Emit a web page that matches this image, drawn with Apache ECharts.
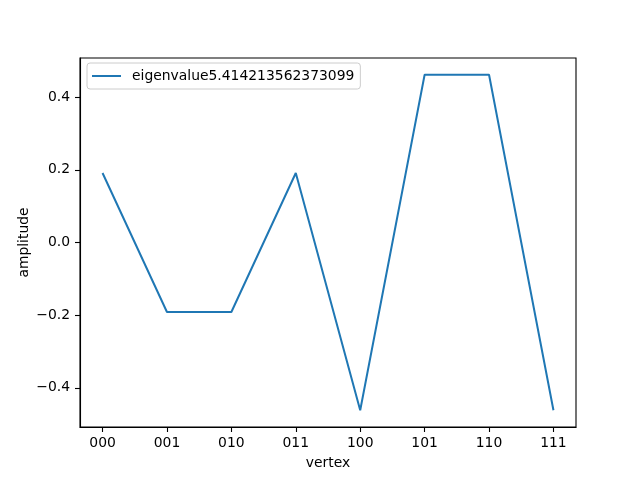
<!DOCTYPE html>
<html>
<head>
<meta charset="utf-8">
<script src="https://cdn.jsdelivr.net/npm/echarts@6/dist/echarts.min.js"></script>
<style>
  html, body { margin: 0; padding: 0; background: #fff; }
  #chart { width: 640px; height: 480px; }
</style>
</head>
<body>
<div id="chart"></div>
<script>
// vertex labels and eigenvector amplitudes
var vertices = ['000', '001', '010', '011', '100', '101', '110', '111'];
var amplitude = [0.1913, -0.1913, -0.1913, 0.1913, -0.4619, 0.4619, 0.4619, -0.4619];
var yTicks = [-0.4, -0.2, 0.0, 0.2, 0.4];
var seriesName = 'eigenvalue5.414213562373099';

var font = 'DejaVu Sans';
var fs = 13.9;
var chart = echarts.init(document.getElementById('chart'), null, { renderer: 'canvas' });

var option = {
  backgroundColor: '#fff',
  animation: false,
  grid: {
    left: 80, right: 64, top: 58, bottom: 53,
    show: true, borderColor: '#000', borderWidth: 1.1,
    containLabel: false
  },
  legend: {
    show: true,
    left: 87, top: 63,
    orient: 'vertical',
    data: [seriesName],
    backgroundColor: 'rgba(255,255,255,0.8)',
    borderColor: '#ccc', borderWidth: 1, borderRadius: 3,
    padding: [6, 6, 6, 5],
    itemWidth: 29, itemHeight: 2, itemGap: 10,
    icon: 'rect',
    textStyle: { fontFamily: font, fontSize: fs, color: '#000', padding: [0, 0, 0, 6] }
  },
  xAxis: {
    type: 'value',
    min: -0.35, max: 7.35,
    name: 'vertex', nameLocation: 'middle', nameGap: 29,
    nameMoveOverlap: false,
    nameTextStyle: { fontFamily: font, fontSize: fs, color: '#000' },
    axisLine: { show: true, onZero: false, lineStyle: { color: '#000', width: 1.1 } },
    axisTick: { show: true, inside: false, length: 5, customValues: vertices.map(function (v, i) { return i; }), lineStyle: { color: '#000', width: 1.1 } },
    axisLabel: {
      customValues: vertices.map(function (v, i) { return i; }),
      formatter: function (v) { return vertices[Math.round(v)]; },
      fontFamily: font, fontSize: fs, color: '#000', margin: 9
    },
    splitLine: { show: false }
  },
  yAxis: {
    type: 'value',
    min: -0.508, max: 0.508,
    name: 'amplitude', nameLocation: 'middle', nameGap: 49, nameRotate: 90,
    nameMoveOverlap: false,
    nameTextStyle: { fontFamily: font, fontSize: fs, color: '#000' },
    axisLine: { show: true, onZero: false, lineStyle: { color: '#000', width: 1.1 } },
    axisTick: { show: true, inside: false, length: 5, customValues: yTicks, lineStyle: { color: '#000', width: 1.1 } },
    axisLabel: {
      customValues: yTicks,
      formatter: function (v) { return (v < 0 ? '\u2212' : '') + Math.abs(v).toFixed(1); },
      fontFamily: font, fontSize: fs, color: '#000', margin: 10
    },
    splitLine: { show: false }
  },
  series: [{
    name: seriesName,
    type: 'line',
    data: amplitude.map(function (a, i) { return [i, a]; }),
    showSymbol: false,
    symbol: 'none',
    lineStyle: { color: '#1f77b4', width: 2 },
    itemStyle: { color: '#1f77b4' }
  }]
};

chart.setOption(option);
</script>
</body>
</html>
